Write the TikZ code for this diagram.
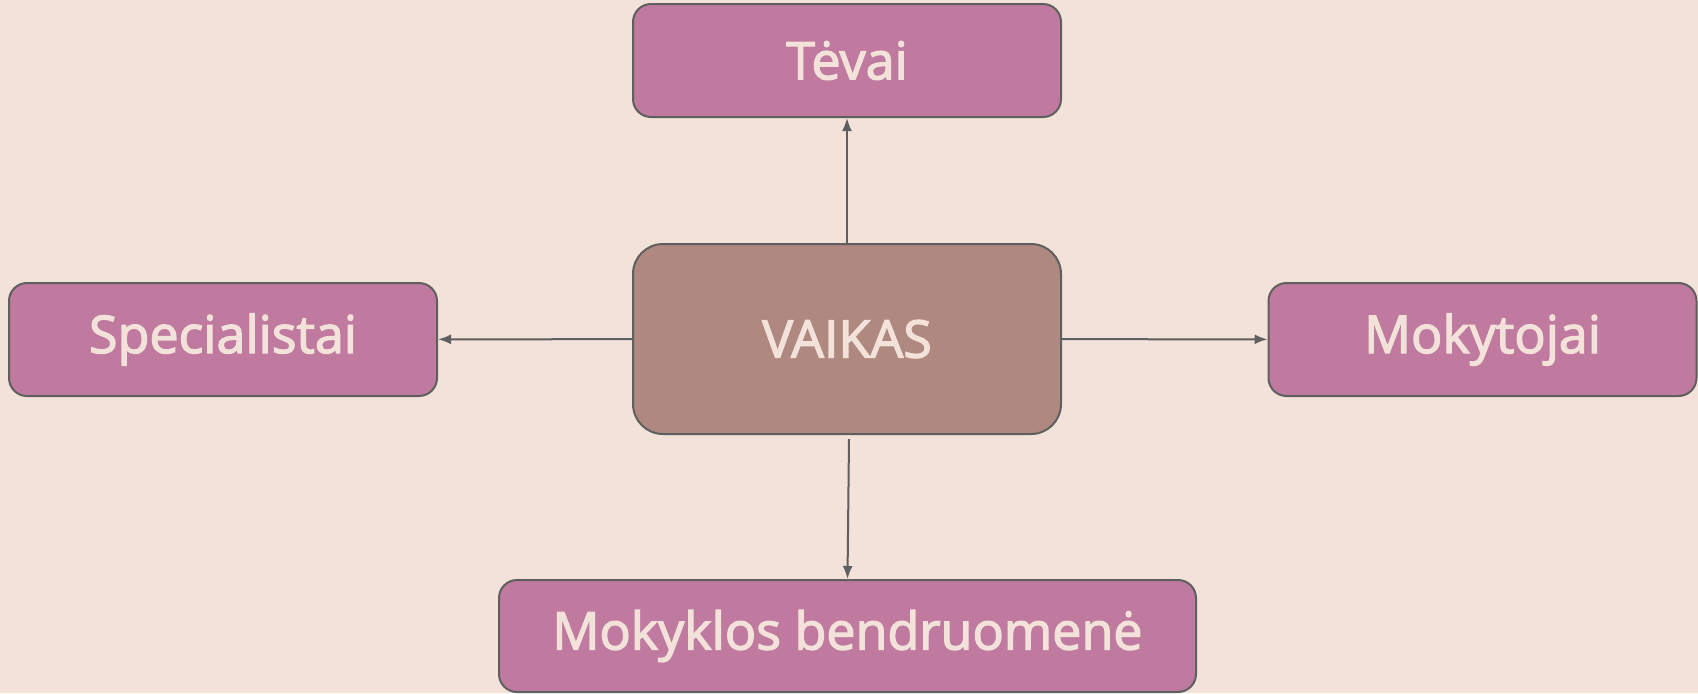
\documentclass[tikz,border=0pt]{standalone}
\usepackage{fontspec}
\newfontfamily\boxfont{Open Sans}[FakeBold=2.5]
\usetikzlibrary{arrows.meta}
\definecolor{bgcol}{HTML}{F2E2DA}
\definecolor{rosecol}{HTML}{C17A9F}
\definecolor{corecol}{HTML}{AF8880}
\definecolor{edgecol}{HTML}{5F5F5F}
\tikzset{
  box/.style={draw=edgecol, line width=1pt, fill=rosecol, rounded corners=9pt,
    minimum width=214pt, minimum height=56.5pt, text=bgcol,
    font=\boxfont\fontsize{26}{30}\selectfont},
  core/.style={box, fill=corecol, rounded corners=15pt, minimum height=95pt},
  link/.style={draw=edgecol, line width=1pt, -{Latex[length=6.5pt,width=5pt]}}
}
\begin{document}
\begin{tikzpicture}[x=0.5pt,y=-0.5pt]
  \useasboundingbox[fill=bgcol] (0,0) rectangle (1698,693);

  \node[core] (vaikas) at (847,339) {VAIKAS};
  \foreach \name/\x/\y/\label in {tevai/847/60.5/Tėvai,
                                  spec/223/339.5/Specialistai,
                                  moky/1482.5/339.5/Mokytojai}
    \node[box] (\name) at (\x,\y) {\label};
  \node[box, minimum width=348.5pt, minimum height=56pt] (bendr) at (847.5,636)
    {Mokyklos bendruomenė};
  \coordinate (vaikas-s) at (849,439);

  \path (vaikas)   edge[link] (tevai)
                   edge[link] (spec)
                   edge[link] (moky)
        (vaikas-s) edge[link] (bendr.north);
\end{tikzpicture}
\end{document}
